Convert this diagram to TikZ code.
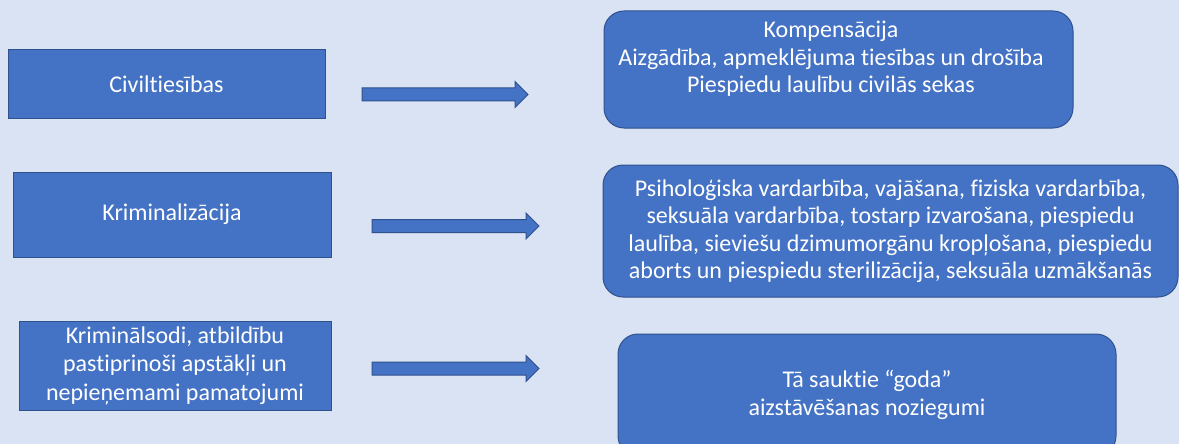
\documentclass[tikz,border=0pt]{standalone}
\usepackage{fontspec}
\setmainfont{Carlito}[Ligatures={NoCommon}]
\definecolor{fondBleu}{HTML}{DAE3F3}
\definecolor{boiteBleu}{HTML}{4472C4}
\definecolor{bordBleu}{HTML}{2F528F}
\begin{document}
\begin{tikzpicture}[x=1pt,y=-1pt,
  boite/.style={draw=bordBleu, line width=1pt, fill=boiteBleu, inner sep=0pt},
  rboite/.style={boite, rounded corners=20pt},
  texte/.style={text=white, align=center, font=\fontsize{24}{27.5}\selectfont}]
\def\blockarrow#1#2#3{%
  \draw[draw=bordBleu, line width=1pt, fill=boiteBleu, line join=miter]
    (#1,#3-6.5) -- (#2-13,#3-6.5) -- (#2-13,#3-13) -- (#2,#3)
    -- (#2-13,#3+13) -- (#2-13,#3+6.5) -- (#1,#3+6.5) -- cycle;}
%
\fill[fondBleu] (0,0) rectangle (1179,444);
\useasboundingbox (0,0) rectangle (1179,444);
%
% Colonne de gauche :
\node[boite, texte, minimum width=317, minimum height=68] (civ) at (166.5,84) {Civiltiesības};
\node[boite, texte, minimum width=318, minimum height=85] (krim) at (172,214.5) {Kriminalizācija};
\node[boite, texte, font=\fontsize{24}{28.5}\selectfont, minimum width=312, minimum height=89] (sodi) at (175,365.5)
  {Kriminālsodi, atbildību\\pastiprinoši apstākļi un\\nepieņemami pamatojumi};
%
% Fleches :
\blockarrow{362}{528}{94.5}
\blockarrow{372}{539}{226}
\blockarrow{372}{539}{368.5}
%
% Colonne de droite :
\node[rboite, minimum width=469, minimum height=117] (komp) at (838.5,69.5) {};
\node[texte] (kompT) at (831,59)
  {Kompensācija\\Aizgādība, apmeklējuma tiesības un drošība\\Piespiedu laulību civilās sekas};
\node[rboite, texte, minimum width=575, minimum height=132] (vard) at (890.5,231)
  {Psiholoģiska vardarbība, vajāšana, fiziska vardarbība,\\seksuāla vardarbība, tostarp izvarošana, piespiedu\\laulība, sieviešu dzimumorgānu kropļošana, piespiedu\\aborts un piespiedu sterilizācija, seksuāla uzmākšanās};
\node[rboite, texte, minimum width=498, minimum height=122] (goda) at (867,395)
  {Tā sauktie “goda”\\aizstāvēšanas noziegumi};
\end{tikzpicture}
\end{document}
